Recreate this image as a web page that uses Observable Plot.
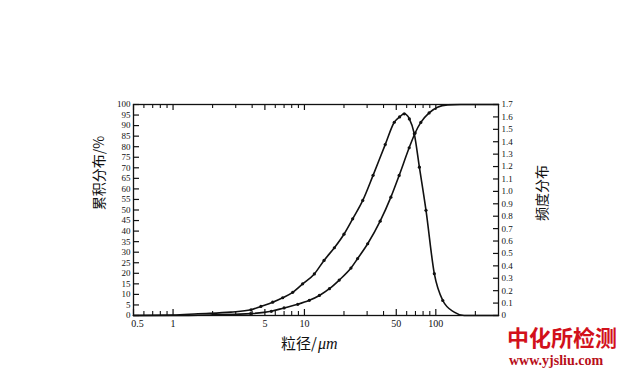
<!DOCTYPE html>
<html><head><meta charset="utf-8">
<script src="https://cdn.jsdelivr.net/npm/d3@7"></script>
<script src="https://cdn.jsdelivr.net/npm/@observablehq/plot@0.6"></script>
<style>
body{margin:0;background:#fff}
#wrap{position:relative;width:624px;height:390px}
#wm1{position:absolute;left:507px;top:324px;font:bold 22px/24px "Noto Sans CJK SC";color:#d2111b}
#wm2{position:absolute;left:509px;top:353px;font:bold 14px/16px "Liberation Serif";color:#b8101a}
</style>
</head><body>
<div id="wrap"><div id="chart"></div><div id="wm1">中化所检测</div><div id="wm2">www.yjsliu.com</div></div>
<script>
// cumulative distribution (%), left axis
const cumX = [0.5, 1, 2, 3, 3.9, 5.6, 7, 8.9, 10.9, 13, 15.5, 18.4, 22.6, 25.4, 30.3, 37.7, 45.5, 52.6, 62.7, 69.6, 76.9, 88.9, 103, 123, 155, 200, 300];
const cumY = [0, 0, 0.3, 0.6, 0.9, 2.0, 3.6, 5.3, 7.2, 9.5, 12.7, 16.8, 22.5, 27, 34, 44.7, 56.1, 66.4, 79.5, 86.5, 91.5, 96, 98.7, 99.8, 100, 100, 100];
// frequency distribution, right axis
const freqX = [0.5, 1, 1.55, 2.76, 3.92, 4.66, 5.73, 6.83, 8.14, 9.69, 11.9, 14.1, 16.9, 20.0, 23.3, 27.8, 33.3, 41.2, 48.3, 53, 57.5, 62.9, 68.6, 75, 84.2, 97.4, 113, 138, 164, 200, 300];
const freqY = [0, 0.003, 0.014, 0.027, 0.046, 0.073, 0.107, 0.143, 0.187, 0.255, 0.335, 0.444, 0.546, 0.655, 0.779, 0.927, 1.129, 1.377, 1.557, 1.60, 1.625, 1.584, 1.464, 1.195, 0.847, 0.337, 0.121, 0.027, 0, 0, 0];
const xLabels = [0.5, 1, 5, 10, 50, 100];
const xMinor = [0.6, 0.7, 0.8, 0.9, 2, 3, 4, 6, 7, 8, 9, 20, 30, 40, 60, 70, 80, 90, 200];
const leftTicks = d3.range(0, 101, 5);
const rightTicks = d3.range(0, 18).map(i => i / 10);
const rightMax = 1.7;

const cum = cumX.map((x, i) => ({x, y: cumY[i]}));
const freq = freqX.map((x, i) => ({x, f: freqY[i]}));
const toLeft = f => f / rightMax * 100;
const serif = "Liberation Serif";
const plotH = 390 - 104 - 75;            // inner height in px
const pxToY = px => px / plotH * 100;     // tick length in y units

const plot = Plot.plot({
  width: 624, height: 390,
  marginLeft: 133, marginRight: 126, marginTop: 104, marginBottom: 75,
  style: {fontFamily: serif, fontSize: "9px", color: "#111", background: "#fff"},
  x: {type: "log", domain: [0.5, 300], axis: null},
  y: {domain: [0, 100], axis: null},
  marks: [
    Plot.frame({stroke: "#111", strokeWidth: 1.3}),
    // left axis: inward ticks + labels
    Plot.axisY({anchor: "left", ticks: leftTicks, tickSize: -6, text: null, label: null, strokeWidth: 1.2}),
    Plot.axisY({anchor: "left", ticks: leftTicks, tickSize: 0, tickPadding: 3, label: null, tickFormat: d => d, fill: "#111"}),
    // right axis
    Plot.axisY({anchor: "right", ticks: rightTicks.map(toLeft), tickSize: -6, text: null, label: null, strokeWidth: 1.2}),
    Plot.axisY({anchor: "right", ticks: rightTicks.map(toLeft), tickSize: 0, tickPadding: 3, label: null, fill: "#111",
      tickFormat: d => { const v = Math.round(d * rightMax) / 100; return v === 0 ? "0" : v.toFixed(1); }}),
    // bottom & top inward ticks
    Plot.ruleX(xLabels, {x: d => d, y1: 0, y2: pxToY(6), stroke: "#111", strokeWidth: 1.2}),
    Plot.ruleX(xMinor, {x: d => d, y1: 0, y2: pxToY(4), stroke: "#111", strokeWidth: 1.1}),
    Plot.ruleX(xLabels, {x: d => d, y1: 100 - pxToY(6), y2: 100, stroke: "#111", strokeWidth: 1.2}),
    Plot.ruleX(xMinor, {x: d => d, y1: 100 - pxToY(4), y2: 100, stroke: "#111", strokeWidth: 1.1}),
    // bottom tick labels (first one nudged right, clear of the left "0")
    Plot.text(xLabels.slice(0, 1), {x: d => d, frameAnchor: "bottom", lineAnchor: "top", dy: 4, dx: 4, text: d => String(d), fontSize: 10, fill: "#111"}),
    Plot.text(xLabels.slice(1), {x: d => d, frameAnchor: "bottom", lineAnchor: "top", dy: 4, text: d => String(d), fontSize: 10, fill: "#111"}),
    // curves
    Plot.line(cum, {x: "x", y: "y", curve: "monotone-x", stroke: "#111", strokeWidth: 1.6}),
    Plot.line(freq, {x: "x", y: d => toLeft(d.f), curve: "monotone-x", stroke: "#111", strokeWidth: 1.6}),
    Plot.dot(cum.filter(d => d.x > 3 && d.x < 100), {x: "x", y: "y", r: 1.6, fill: "#111", stroke: null}),
    Plot.dot(freq.filter(d => d.x > 3 && d.x < 120), {x: "x", y: d => toLeft(d.f), r: 1.6, fill: "#111", stroke: null}),
    // axis titles
    Plot.text(["累积分布/%"], {frameAnchor: "left", textAnchor: "middle", dx: -34, dy: -37, rotate: -90, fontSize: 14, fontFamily: "Noto Sans CJK SC", fill: "#111"}),
    Plot.text(["频度分布"], {frameAnchor: "right", textAnchor: "middle", dx: 44, dy: -17, rotate: -90, fontSize: 14, fontFamily: "Noto Sans CJK SC", fill: "#111"}),
    Plot.text(["粒径/"], {frameAnchor: "bottom", textAnchor: "end", dx: 1, dy: 33, fontSize: 15, fontFamily: "Noto Sans CJK SC", fill: "#111"}),
    Plot.text(["μm"], {frameAnchor: "bottom", textAnchor: "start", dx: 2, dy: 33, fontSize: 16, fontStyle: "italic", fontFamily: serif, fill: "#111"})
  ]
});
document.getElementById("chart").appendChild(plot);
</script>
</body></html>
